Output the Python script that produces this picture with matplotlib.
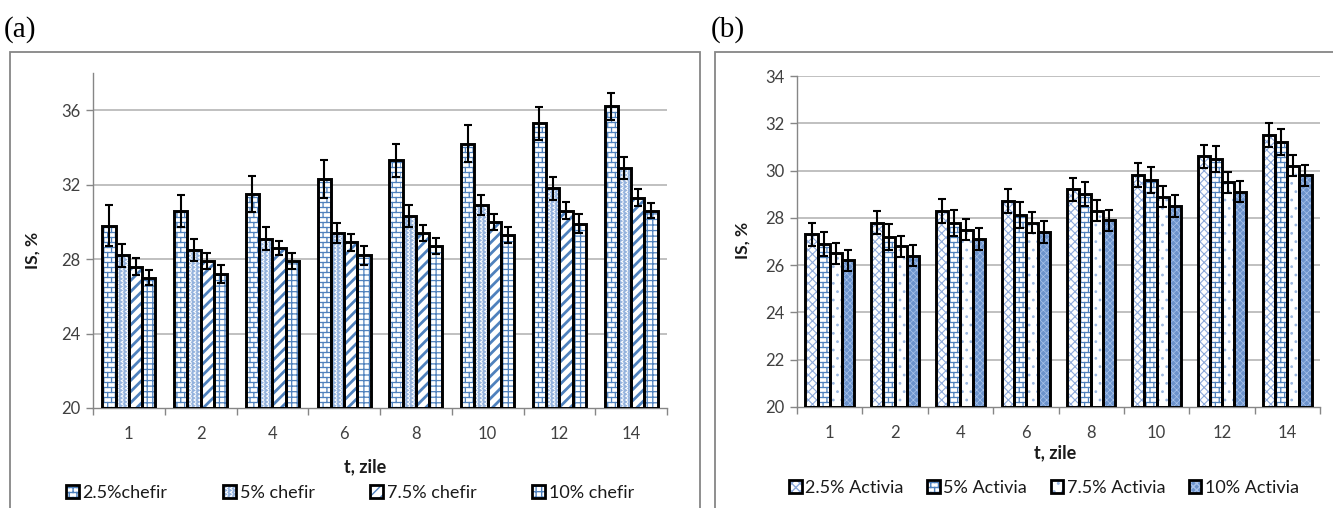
import warnings
warnings.filterwarnings('ignore')
import numpy as np
import matplotlib
matplotlib.use('Agg')
import matplotlib.pyplot as plt
import matplotlib.hatch as mhatch
from matplotlib.path import Path
from matplotlib.patches import Rectangle
from matplotlib.legend_handler import HandlerTuple

# ---------------- data ----------------
days = ['1', '2', '4', '6', '8', '10', '12', '14']

a_labels = ['2.5%chefir', '5% chefir', '7.5% chefir', '10% chefir']
a_25 = [29.8, 30.6, 31.5, 32.3, 33.3, 34.2, 35.3, 36.2]
a_5 = [28.2, 28.5, 29.1, 29.4, 30.3, 30.9, 31.8, 32.9]
a_75 = [27.6, 27.9, 28.6, 28.9, 29.4, 30.0, 30.6, 31.3]
a_10 = [27.0, 27.2, 27.9, 28.2, 28.7, 29.3, 29.9, 30.6]
a_25_err = [1.1, 0.85, 0.95, 1.0, 0.9, 1.0, 0.9, 0.75]
a_5_err = [0.6, 0.6, 0.6, 0.55, 0.6, 0.55, 0.6, 0.6]
a_75_err = [0.45, 0.45, 0.4, 0.45, 0.45, 0.45, 0.45, 0.45]
a_10_err = [0.4, 0.5, 0.45, 0.5, 0.45, 0.45, 0.5, 0.4]

b_labels = ['2.5% Activia', '5% Activia', '7.5% Activia', '10% Activia']
b_25 = [27.3, 27.8, 28.3, 28.7, 29.2, 29.8, 30.6, 31.5]
b_5 = [26.9, 27.2, 27.8, 28.1, 29.0, 29.6, 30.5, 31.2]
b_75 = [26.5, 26.8, 27.5, 27.8, 28.3, 28.9, 29.5, 30.2]
b_10 = [26.2, 26.4, 27.1, 27.4, 27.9, 28.5, 29.1, 29.8]
b_25_err = [0.5, 0.5, 0.5, 0.5, 0.5, 0.5, 0.5, 0.5]
b_5_err = [0.5, 0.55, 0.55, 0.55, 0.5, 0.55, 0.55, 0.55]
b_75_err = [0.45, 0.45, 0.45, 0.45, 0.45, 0.45, 0.45, 0.45]
b_10_err = [0.45, 0.45, 0.45, 0.45, 0.45, 0.45, 0.45, 0.45]


# ---------------- custom hatches ----------------
class _SegHatch(mhatch.HatchPatternBase):
    char = None

    def __init__(self, hatch, density):
        self.segs = self.build() if (self.char and self.char in hatch) else []
        self.num_vertices = sum(len(s) for s in self.segs)

    def set_vertices_and_codes(self, vertices, codes):
        i = 0
        for s in self.segs:
            for k, p in enumerate(s):
                vertices[i] = p
                codes[i] = Path.MOVETO if k == 0 else Path.LINETO
                i += 1


class BrickHatch(_SegHatch):
    char = 'b'

    def build(self):
        R, C = 20, 13
        segs = []
        for i in range(R):
            y = (i + 0.5) / R
            segs.append([(0.0, y), (1.0, y)])
        for i in range(R):
            off = 0.5 * (i % 2)
            y0 = (i + 0.5) / R
            y1 = (i + 1.5) / R
            for j in range(C):
                x = (j + off) / C
                if y1 <= 1.0:
                    segs.append([(x, y0), (x, y1)])
                else:
                    segs.append([(x, y0), (x, 1.0)])
                    segs.append([(x, 0.0), (x, y1 - 1.0)])
        return segs


class ZigHatch(_SegHatch):
    char = 'z'

    def build(self):
        C, P = 22, 26
        segs = []
        amp = 0.32 / C
        for j in range(C):
            xc = (j + 0.5) / C
            pts = []
            for k in range(P * 2 + 1):
                y = k / (2 * P)
                x = xc + (amp if k % 2 else -amp)
                pts.append((x, y))
            segs.append(pts)
        return segs


mhatch._hatch_types.extend([BrickHatch, ZigHatch])

# ---------------- style ----------------
plt.rcParams['font.family'] = ['Lato', 'DejaVu Sans']
plt.rcParams['hatch.linewidth'] = 1.0

W, H = 1333, 508
fig = plt.figure(figsize=(W / 100, H / 100), dpi=100)


def fx(px):
    return px / W


def fy(py):
    return 1 - py / H


BLUE = '#4f81bd'
LBLUE = '#8eaadb'
GRID = '#b5b5b5'
AX = '#868686'

a_styles = [
    dict(face='white', hc=BLUE, hatch='b', hlw=0.9),
    dict(face='white', hc='#95b3dd', hatch='z', hlw=1.0),
    dict(face='white', hc=BLUE, hatch='///', hlw=2.0),
    dict(face='white', hc=BLUE, hatch='+++', hlw=0.9),
]
b_styles = [
    dict(face='white', hc=LBLUE, hatch='xxxx', hlw=0.8),
    dict(face='white', hc=BLUE, hatch='b', hlw=0.9),
    dict(face='white', hc='#9bb7df', hatch='..', hlw=0.8),
    dict(face='#6c93cc', hc='#a9c3ea', hatch='xxxxx', hlw=0.5),
]


def draw_panel(ax, series, errs, styles, labels, ylim, yticks, grid_ticks):
    x = np.arange(len(days))
    w = 0.185
    for i, (vals, er, st) in enumerate(zip(series, errs, styles)):
        xs = x + (i - 1.5) * w
        b1 = ax.bar(xs, np.array(vals) - ylim[0], w, bottom=ylim[0],
                    color=st['face'], edgecolor=st['hc'],
                    hatch=st['hatch'], linewidth=0, zorder=2)
        for p in b1:
            if hasattr(p, 'set_hatch_linewidth'):
                p.set_hatch_linewidth(st['hlw'])
        ax.bar(xs, np.array(vals) - ylim[0], w, bottom=ylim[0], fill=False,
               edgecolor='black', linewidth=2.1, zorder=3)
        ax.errorbar(xs, vals, yerr=er, fmt='none', ecolor='black',
                    elinewidth=1.5, capsize=3.2, capthick=1.5, zorder=4)
    ax.set_xlim(-0.5, len(days) - 0.5)
    ax.set_ylim(*ylim)
    ax.set_yticks(yticks)
    ax.set_xticks(x)
    ax.set_xticklabels(days)
    ax.set_xticks(np.arange(len(days) + 1) - 0.5, minor=True)
    for g in grid_ticks:
        ax.axhline(g, color=GRID, lw=1.2, zorder=1)
    for s in ['top', 'right']:
        ax.spines[s].set_visible(False)
    for s in ['left', 'bottom']:
        ax.spines[s].set_color(AX)
        ax.spines[s].set_linewidth(1.0)
    ax.tick_params(axis='y', length=5, width=1, color=AX, labelsize=12,
                   labelcolor='#404040', pad=4)
    ax.tick_params(axis='x', which='major', length=0, labelsize=12,
                   labelcolor='#404040', pad=13)
    ax.tick_params(axis='x', which='minor', length=5, width=1, color=AX)


# panel a
ax1 = fig.add_axes([fx(93), fy(408), fx(667 - 93), (408 - 73) / H])
draw_panel(ax1, [a_25, a_5, a_75, a_10], [a_25_err, a_5_err, a_75_err, a_10_err],
           a_styles, a_labels, (20, 38), [20, 24, 28, 32, 36], [24, 28, 32, 36])

# panel b
ax2 = fig.add_axes([fx(797), fy(407), fx(1320 - 797), (407 - 76) / H])
draw_panel(ax2, [b_25, b_5, b_75, b_10], [b_25_err, b_5_err, b_75_err, b_10_err],
           b_styles, b_labels, (20, 34), [20, 22, 24, 26, 28, 30, 32, 34],
           [22, 24, 26, 28, 30, 32, 34])

# axis titles
fig.text(fx(33), fy(250), 'IS, %', rotation=90, ha='center', va='center',
         fontsize=12.5, fontweight='bold', color='#1a1a1a')
fig.text(fx(743), fy(240), 'IS, %', rotation=90, ha='center', va='center',
         fontsize=12.5, fontweight='bold', color='#1a1a1a')
fig.text(fx(365), fy(467), 't, zile', ha='center', va='center',
         fontsize=13, fontweight='bold', color='#1a1a1a')
fig.text(fx(1055), fy(453), 't, zile', ha='center', va='center',
         fontsize=13, fontweight='bold', color='#1a1a1a')

# panel letters
fig.text(fx(4), fy(30), '(a)', ha='left', va='center', fontsize=21,
         family='Liberation Serif')
fig.text(fx(711), fy(30), '(b)', ha='left', va='center', fontsize=21,
         family='Liberation Serif')

# panel frames
fig.add_artist(Rectangle((fx(10), fy(520)), fx(700 - 10), (520 - 52) / H,
                         transform=fig.transFigure, fill=False,
                         edgecolor=AX, lw=1.3))
fig.add_artist(Rectangle((fx(715), fy(520)), fx(1345 - 715), (520 - 52) / H,
                         transform=fig.transFigure, fill=False,
                         edgecolor=AX, lw=1.3))


def make_handles(styles):
    hs = []
    for st in styles:
        r1 = Rectangle((0, 0), 1, 1, facecolor=st['face'], edgecolor=st['hc'],
                       hatch=st['hatch'], linewidth=0)
        if hasattr(r1, 'set_hatch_linewidth'):
            r1.set_hatch_linewidth(st['hlw'])
        r2 = Rectangle((0, 0), 1, 1, fill=False, edgecolor='black',
                       linewidth=2.0)
        hs.append((r1, r2))
    return hs


leg1 = fig.legend(make_handles(a_styles), a_labels, ncol=4, frameon=False,
                  loc='center', bbox_to_anchor=(fx(350), fy(493)),
                  handler_map={tuple: HandlerTuple(ndivide=1)},
                  handlelength=0.7, handleheight=0.7, handletextpad=0.2,
                  columnspacing=3.1, fontsize=13, borderpad=0)
leg2 = fig.legend(make_handles(b_styles), b_labels, ncol=4, frameon=False,
                  loc='center', bbox_to_anchor=(fx(1044), fy(488)),
                  handler_map={tuple: HandlerTuple(ndivide=1)},
                  handlelength=0.7, handleheight=0.7, handletextpad=0.2,
                  columnspacing=1.3, fontsize=13, borderpad=0)
for lg in (leg1, leg2):
    for t in lg.get_texts():
        t.set_color('#1a1a1a')

fig.savefig('out.png', dpi=100)
